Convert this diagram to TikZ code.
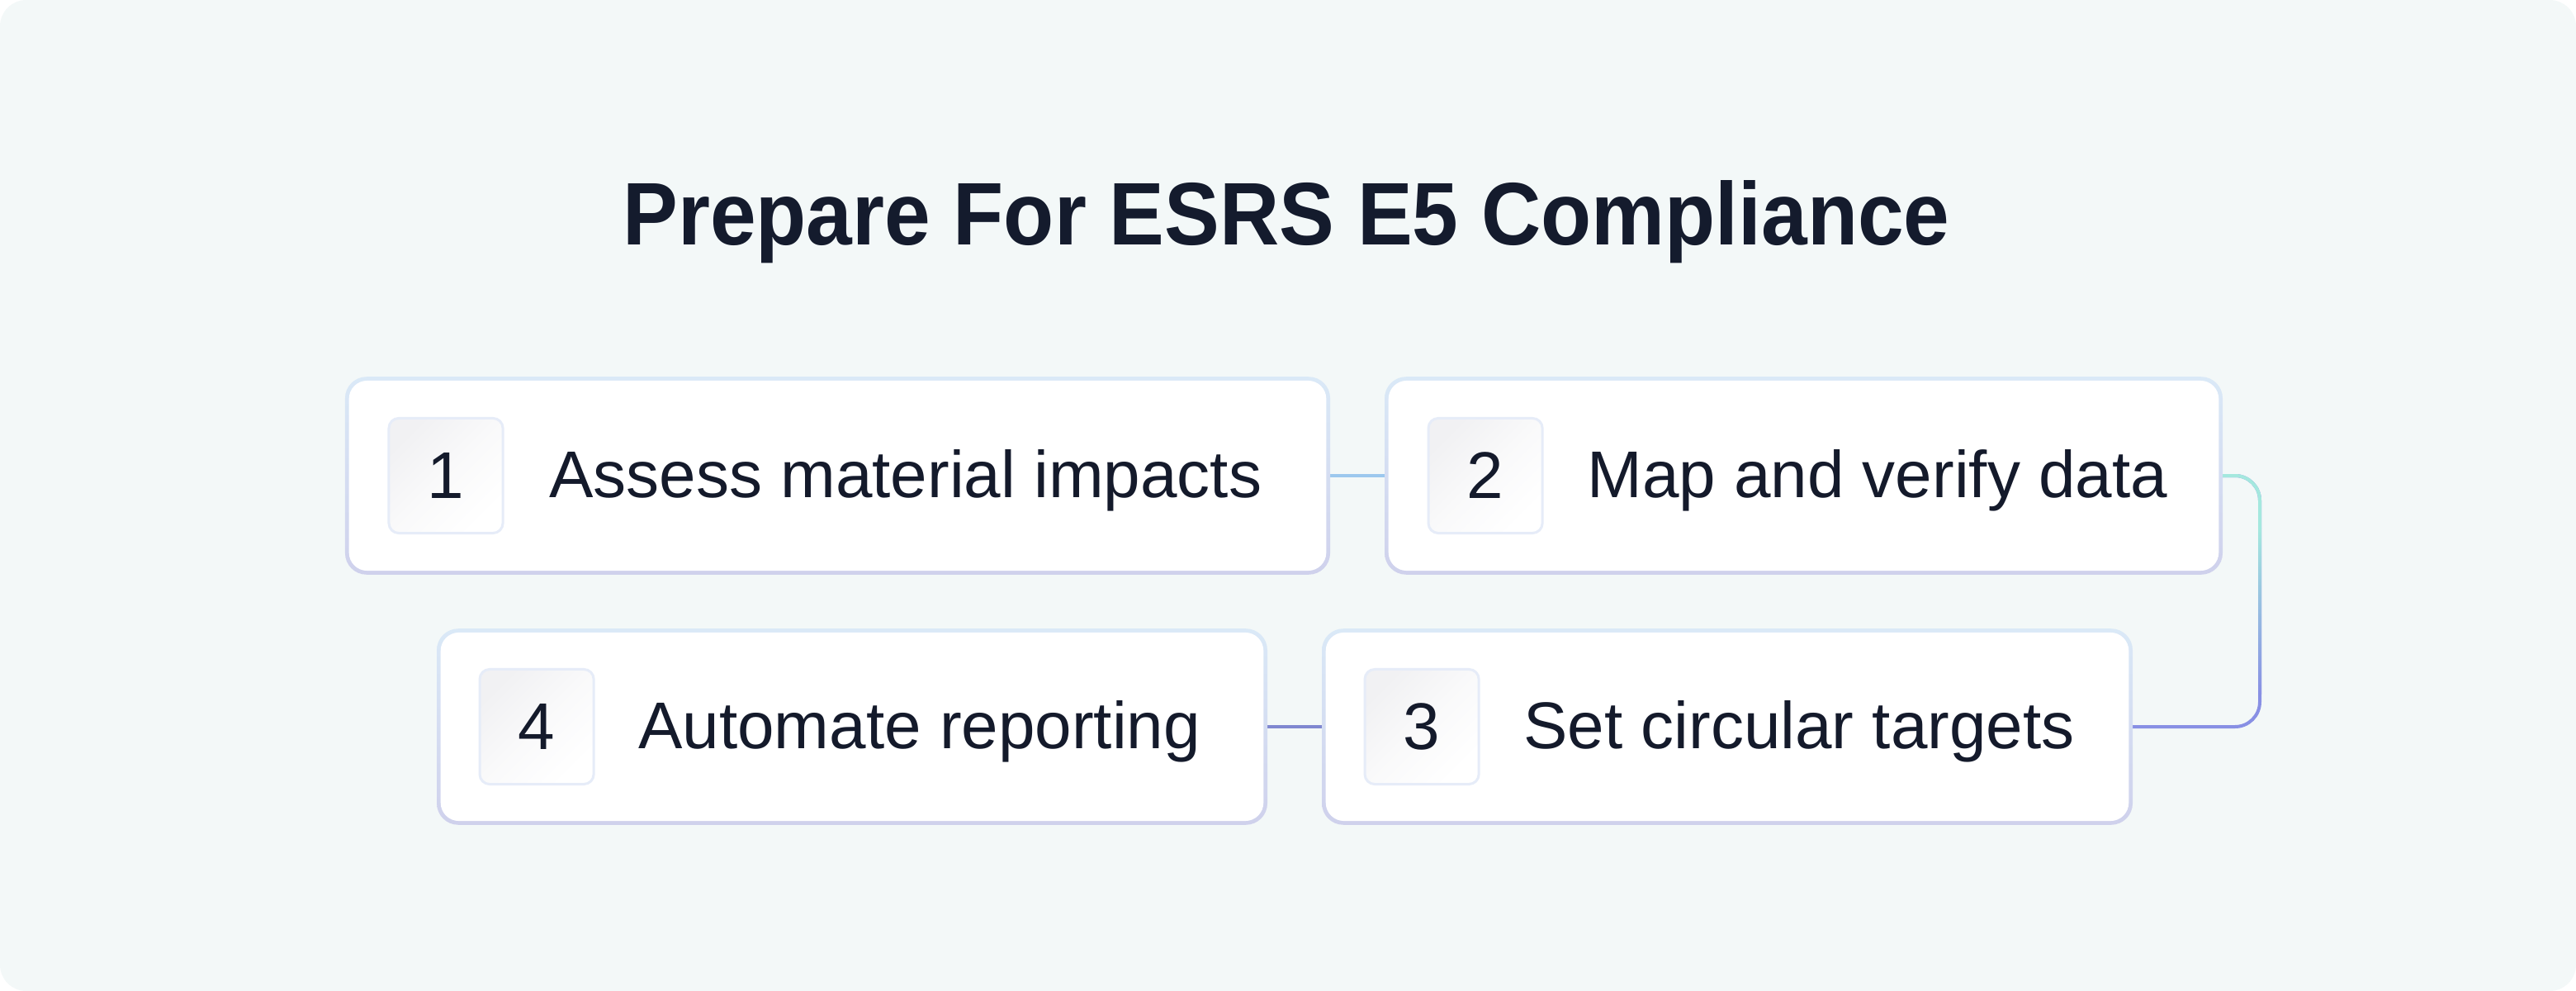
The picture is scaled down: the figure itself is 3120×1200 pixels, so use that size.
\documentclass[tikz,border=0pt]{standalone}
\usepackage{fontspec}
\setmainfont{Liberation Sans}
\newfontfamily\titlefont[FakeStretch=0.93]{Liberation Sans}
\usetikzlibrary{calc}
\definecolor{pagebg}{HTML}{F3F8F8}
\definecolor{titlecol}{HTML}{141B2D}
\definecolor{txtcol}{HTML}{141A2B}
\definecolor{bordtop}{HTML}{DAE9F7}
\definecolor{bordbot}{HTML}{CFD1EC}
\definecolor{numtop}{HTML}{F1F1F3}
\definecolor{numborder}{HTML}{E6ECF8}
\definecolor{conA}{HTML}{9CC8EE}
\definecolor{conTeal}{HTML}{A4E8DE}
\definecolor{conPeri}{HTML}{8890E4}
\definecolor{conC}{HTML}{8088D0}
\pgfdeclarelayer{bg}
\pgfsetlayers{bg,main}
\begin{document}
\begin{tikzpicture}[x=0.01cm,y=-0.01cm,
  card/.style={rectangle, fill=white, rounded corners=0.22cm, minimum height=2.30cm, inner sep=0pt},
  numbox/.style={rectangle, rounded corners=0.12cm, minimum width=1.38cm, minimum height=1.39cm,
    draw=numborder, line width=0.03cm, top color=numtop, bottom color=white, middle color=white!60!numtop, shading angle=45, inner sep=0pt, anchor=west},
  numtxt/.style={text=txtcol, font=\fontsize{22.76}{27}\selectfont, inner sep=0pt},
  labtxt/.style={text=txtcol, font=\fontsize{22.76}{27}\selectfont, inner sep=0pt, anchor=base west},
  conn/.style={line width=0.04cm},
  bordershade/.style={top color=bordtop, bottom color=bordbot, rounded corners=0.26cm}
]
% cards
\node[card, minimum width=11.83cm] (b1) at (1014.5,576) {};
\node[card, minimum width=10.05cm] (b2) at (2184.5,576) {};
\node[card, minimum width=9.72cm, minimum height=2.28cm] (b3) at (2092,880) {};
\node[card, minimum width=9.96cm, minimum height=2.28cm] (b4) at (1032,880) {};
% number boxes
\node[numbox] (n1) at ([xshift=0.475cm]b1.west) {};
\node[numbox] (n2) at ([xshift=0.475cm]b2.west) {};
\node[numbox] (n3) at ([xshift=0.465cm]b3.west) {};
\node[numbox] (n4) at ([xshift=0.465cm]b4.west) {};
\node[numtxt] (d1) at (n1) {1};
\node[numtxt] (d2) at (n2) {2};
\node[numtxt] (d3) at (n3) {3};
\node[numtxt] (d4) at (n4) {4};
% labels
\node[labtxt] (l1) at ([xshift=0.54cm, yshift=-0.26cm]n1.east) {Assess material impacts};
\node[labtxt] (l2) at ([xshift=0.52cm, yshift=-0.26cm]n2.east) {Map and verify data};
\node[labtxt] (l3) at ([xshift=0.52cm, yshift=-0.26cm]n3.east) {Set circular targets};
\node[labtxt] (l4) at ([xshift=0.52cm, yshift=-0.26cm]n4.east) {Automate reporting};
% title
\node[anchor=base, text=titlecol, font=\titlefont\bfseries\fontsize{30.6}{36}\selectfont, inner sep=0pt] (title) at (1558,296) {Prepare For ESRS E5 Compliance};
\begin{pgfonlayer}{bg}
  \fill[white] (0,0) rectangle (3120,1200);
  \fill[pagebg, rounded corners=0.32cm] (0,0) rectangle (3120,1200);
  % connectors
  \draw[conn, conA] (b1.east) -- (b2.west);
  \draw[conn, conC] (b3.west) -- (b4.east);
  \draw[conn, conPeri, rounded corners=0.3cm] (b2.east) -- ++(49,0) |- (b3.east);
  \draw[conn, conTeal, rounded corners=0.3cm] (b2.east) -- ++(49,0) -- ++(0,64);
  \shade[top color=conTeal, bottom color=conPeri] ($(b2.east)+(47,64)$) rectangle ($(b2.east)+(51,264)$);
  % card borders
  \shade[bordershade] ([shift={(-4,4)}]b1.south west) rectangle ([shift={(4,-4)}]b1.north east);
  \shade[bordershade] ([shift={(-4,4)}]b2.south west) rectangle ([shift={(4,-4)}]b2.north east);
  \shade[bordershade] ([shift={(-4,4)}]b3.south west) rectangle ([shift={(4,-4)}]b3.north east);
  \shade[bordershade] ([shift={(-4,4)}]b4.south west) rectangle ([shift={(4,-4)}]b4.north east);
\end{pgfonlayer}
\end{tikzpicture}
\end{document}
